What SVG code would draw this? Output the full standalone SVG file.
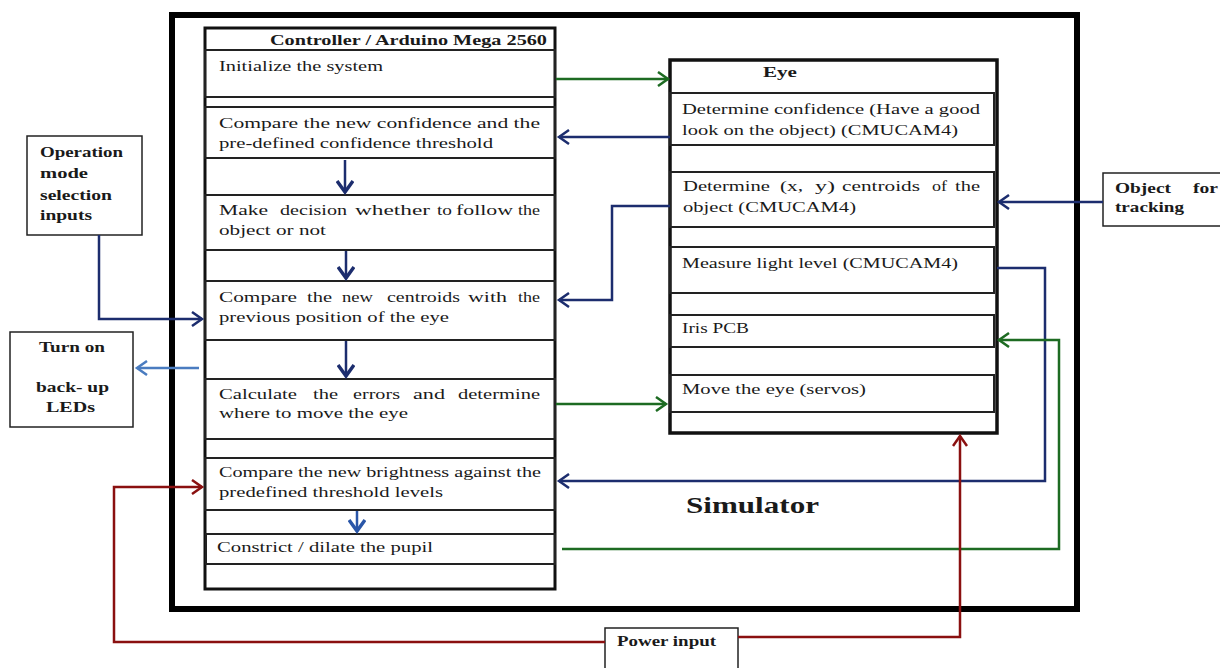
<svg xmlns="http://www.w3.org/2000/svg" width="1220" height="668" viewBox="0 0 1220 668">
<style>
.t{font-family:"Liberation Serif","Times New Roman",serif;font-size:15px;fill:#1a1a1a}
.b{font-weight:bold}
.row{fill:none;stroke:#222;stroke-width:2}
.box{fill:#fff;stroke:#222;stroke-width:1.5}
.c{fill:none;stroke-width:2.5}
.g{stroke:#1d6b22}
.n{stroke:#1c2d6e}
.lb{stroke:#4a7cc0}
.r{stroke:#8a1010}
</style>
<defs>
<marker id="ag" markerUnits="userSpaceOnUse" markerWidth="14" markerHeight="16" refX="11" refY="8" orient="auto"><path d="M1,1 L11,8 L1,15" fill="none" stroke="#1d6b22" stroke-width="2.5"/></marker>
<marker id="an" markerUnits="userSpaceOnUse" markerWidth="14" markerHeight="16" refX="11" refY="8" orient="auto"><path d="M1,1 L11,8 L1,15" fill="none" stroke="#1c2d6e" stroke-width="2.5"/></marker>
<marker id="alb" markerUnits="userSpaceOnUse" markerWidth="14" markerHeight="16" refX="11" refY="8" orient="auto"><path d="M1,1 L11,8 L1,15" fill="none" stroke="#4a7cc0" stroke-width="2.5"/></marker>
<marker id="ar" markerUnits="userSpaceOnUse" markerWidth="14" markerHeight="16" refX="11" refY="8" orient="auto"><path d="M1,1 L11,8 L1,15" fill="none" stroke="#8a1010" stroke-width="2.5"/></marker>
<marker id="ad" markerUnits="userSpaceOnUse" markerWidth="16" markerHeight="18" refX="12" refY="9" orient="auto"><path d="M1,1 L12,9 L1,17" fill="none" stroke="#1c2d6e" stroke-width="3.5"/></marker>
<marker id="adb" markerUnits="userSpaceOnUse" markerWidth="16" markerHeight="18" refX="12" refY="9" orient="auto"><path d="M1,1 L12,9 L1,17" fill="none" stroke="#2a56a8" stroke-width="3.5"/></marker>
</defs>
<rect width="1220" height="668" fill="#fff"/>

<g id="simulator">
<rect x="172" y="15" width="905" height="594" fill="none" stroke="#000" stroke-width="6"/>
<text class="t b" x="686" y="513" style="font-size:24px" textLength="133" lengthAdjust="spacingAndGlyphs">Simulator</text>
</g>

<g id="controller">
<rect x="205" y="28" width="350" height="561" fill="#fff" stroke="#111" stroke-width="3"/>
<line x1="205" y1="50" x2="555" y2="50" stroke="#222" stroke-width="2"/>
<text class="t b" x="270" y="45" textLength="277" lengthAdjust="spacingAndGlyphs">Controller / Arduino Mega 2560</text>
<rect class="row" x="205" y="50" width="350" height="47"/>
<text class="t" x="219" y="71" textLength="164" lengthAdjust="spacingAndGlyphs">Initialize the system</text>
<rect class="row" x="205" y="107" width="350" height="51"/>
<text class="t" x="219" y="128" textLength="321" lengthAdjust="spacingAndGlyphs">Compare the new confidence and the</text>
<text class="t" x="219" y="148" textLength="274" lengthAdjust="spacingAndGlyphs">pre-defined confidence threshold</text>
<rect class="row" x="205" y="195" width="350" height="55"/>
<text class="t" y="215"><tspan x="219" textLength="49" lengthAdjust="spacingAndGlyphs">Make</tspan> <tspan x="280" textLength="67" lengthAdjust="spacingAndGlyphs">decision</tspan> <tspan x="355" textLength="75" lengthAdjust="spacingAndGlyphs">whether</tspan> <tspan x="437" textLength="15" lengthAdjust="spacingAndGlyphs">to</tspan> <tspan x="456" textLength="57" lengthAdjust="spacingAndGlyphs">follow</tspan> <tspan x="518" textLength="22" lengthAdjust="spacingAndGlyphs">the</tspan></text>
<text class="t" x="219" y="235" textLength="107" lengthAdjust="spacingAndGlyphs">object or not</text>
<rect class="row" x="205" y="281" width="350" height="59"/>
<text class="t" y="302"><tspan x="219" textLength="78" lengthAdjust="spacingAndGlyphs">Compare</tspan> <tspan x="307" textLength="25" lengthAdjust="spacingAndGlyphs">the</tspan> <tspan x="342" textLength="31" lengthAdjust="spacingAndGlyphs">new</tspan> <tspan x="387" textLength="73" lengthAdjust="spacingAndGlyphs">centroids</tspan> <tspan x="468" textLength="39" lengthAdjust="spacingAndGlyphs">with</tspan> <tspan x="518" textLength="22" lengthAdjust="spacingAndGlyphs">the</tspan></text>
<text class="t" x="219" y="322" textLength="230" lengthAdjust="spacingAndGlyphs">previous position of the eye</text>
<rect class="row" x="205" y="379" width="350" height="60"/>
<text class="t" y="399"><tspan x="219" textLength="78" lengthAdjust="spacingAndGlyphs">Calculate</tspan> <tspan x="313" textLength="25" lengthAdjust="spacingAndGlyphs">the</tspan> <tspan x="353" textLength="47" lengthAdjust="spacingAndGlyphs">errors</tspan> <tspan x="413" textLength="32" lengthAdjust="spacingAndGlyphs">and</tspan> <tspan x="458" textLength="82" lengthAdjust="spacingAndGlyphs">determine</tspan></text>
<text class="t" x="219" y="418" textLength="189" lengthAdjust="spacingAndGlyphs">where to move the eye</text>
<rect class="row" x="205" y="458" width="350" height="52"/>
<text class="t" x="219" y="477" textLength="322" lengthAdjust="spacingAndGlyphs">Compare the new brightness against the</text>
<text class="t" x="219" y="497" textLength="224" lengthAdjust="spacingAndGlyphs">predefined threshold levels</text>
<rect class="row" x="206" y="534" width="349" height="30"/>
<text class="t" x="217" y="552" textLength="216" lengthAdjust="spacingAndGlyphs">Constrict / dilate the pupil</text>
</g>

<g id="eye">
<rect x="670" y="60" width="327" height="373" fill="#fff" stroke="#111" stroke-width="3.5"/>
<text class="t b" x="763" y="77" textLength="34" lengthAdjust="spacingAndGlyphs">Eye</text>
<rect class="row" x="670" y="93" width="324" height="52"/>
<text class="t" x="682" y="114" textLength="298" lengthAdjust="spacingAndGlyphs">Determine confidence (Have a good</text>
<text class="t" x="682" y="135" textLength="276" lengthAdjust="spacingAndGlyphs">look on the object) (CMUCAM4)</text>
<rect class="row" x="670" y="172" width="324" height="55"/>
<text class="t" y="191"><tspan x="683" textLength="87" lengthAdjust="spacingAndGlyphs">Determine</tspan> <tspan x="780" textLength="23" lengthAdjust="spacingAndGlyphs">(x,</tspan> <tspan x="815" textLength="20" lengthAdjust="spacingAndGlyphs">y)</tspan> <tspan x="842" textLength="78" lengthAdjust="spacingAndGlyphs">centroids</tspan> <tspan x="932" textLength="15" lengthAdjust="spacingAndGlyphs">of</tspan> <tspan x="955" textLength="25" lengthAdjust="spacingAndGlyphs">the</tspan></text>
<text class="t" x="683" y="212" textLength="173" lengthAdjust="spacingAndGlyphs">object (CMUCAM4)</text>
<rect class="row" x="670" y="247" width="324" height="46"/>
<text class="t" x="682" y="268" textLength="276" lengthAdjust="spacingAndGlyphs">Measure light level (CMUCAM4)</text>
<rect class="row" x="670" y="315" width="324" height="32"/>
<text class="t" x="682" y="333" textLength="67" lengthAdjust="spacingAndGlyphs">Iris PCB</text>
<rect class="row" x="670" y="375" width="324" height="37"/>
<text class="t" x="682" y="394" textLength="184" lengthAdjust="spacingAndGlyphs">Move the eye (servos)</text>
</g>

<g id="operation-mode">
<rect class="box" x="27" y="136" width="115" height="99"/>
<text class="t b" x="40" y="157" textLength="83" lengthAdjust="spacingAndGlyphs">Operation</text>
<text class="t b" x="40" y="178" textLength="48" lengthAdjust="spacingAndGlyphs">mode</text>
<text class="t b" x="40" y="200" textLength="72" lengthAdjust="spacingAndGlyphs">selection</text>
<text class="t b" x="40" y="220" textLength="52" lengthAdjust="spacingAndGlyphs">inputs</text>
</g>

<g id="backup-leds">
<rect class="box" x="10" y="332" width="123" height="95"/>
<text class="t b" x="39" y="352" textLength="66" lengthAdjust="spacingAndGlyphs">Turn on</text>
<text class="t b" x="36" y="392" textLength="73" lengthAdjust="spacingAndGlyphs">back- up</text>
<text class="t b" x="46" y="412" textLength="49" lengthAdjust="spacingAndGlyphs">LEDs</text>
</g>

<g id="object-tracking">
<rect class="box" x="1103" y="173" width="130" height="53"/>
<text class="t b" y="193"><tspan x="1115" textLength="56" lengthAdjust="spacingAndGlyphs">Object</tspan> <tspan x="1193" textLength="25" lengthAdjust="spacingAndGlyphs">for</tspan></text>
<text class="t b" x="1115" y="212" textLength="69" lengthAdjust="spacingAndGlyphs">tracking</text>
</g>

<g id="power-input">
<rect class="box" x="605" y="628" width="133" height="50"/>
<text class="t b" x="617" y="646" textLength="99" lengthAdjust="spacingAndGlyphs">Power input</text>
</g>

<g id="connectors">
<path class="c g" d="M556,79 H668" marker-end="url(#ag)"/>
<path class="c n" d="M670,137 H559" marker-end="url(#an)"/>
<path class="c n" d="M345,160 V192" stroke-width="3.5" marker-end="url(#ad)"/>
<path class="c n" d="M346,251 V278" stroke-width="3.5" marker-end="url(#ad)"/>
<path class="c n" d="M346,341 V376" stroke-width="3.5" marker-end="url(#ad)"/>
<path class="c" d="M357,511 V531" stroke="#2a56a8" stroke-width="3.5" marker-end="url(#adb)"/>
<path class="c n" d="M99,235 V319 H202" marker-end="url(#an)"/>
<path class="c lb" d="M199,368 H137" marker-end="url(#alb)"/>
<path class="c n" d="M670,206 H612 V300 H559" marker-end="url(#an)"/>
<path class="c n" d="M1103,202 H999" marker-end="url(#an)"/>
<path class="c n" d="M997,268 H1045 V481 H559" marker-end="url(#an)"/>
<path class="c g" d="M556,404 H666" marker-end="url(#ag)"/>
<path class="c g" d="M562,549 H1059 V340 H999" marker-end="url(#ag)"/>
<path class="c r" d="M605,642 H114 V487 H202" marker-end="url(#ar)"/>
<path class="c r" d="M738,637 H960 V436" marker-end="url(#ar)"/>
</g>
</svg>
